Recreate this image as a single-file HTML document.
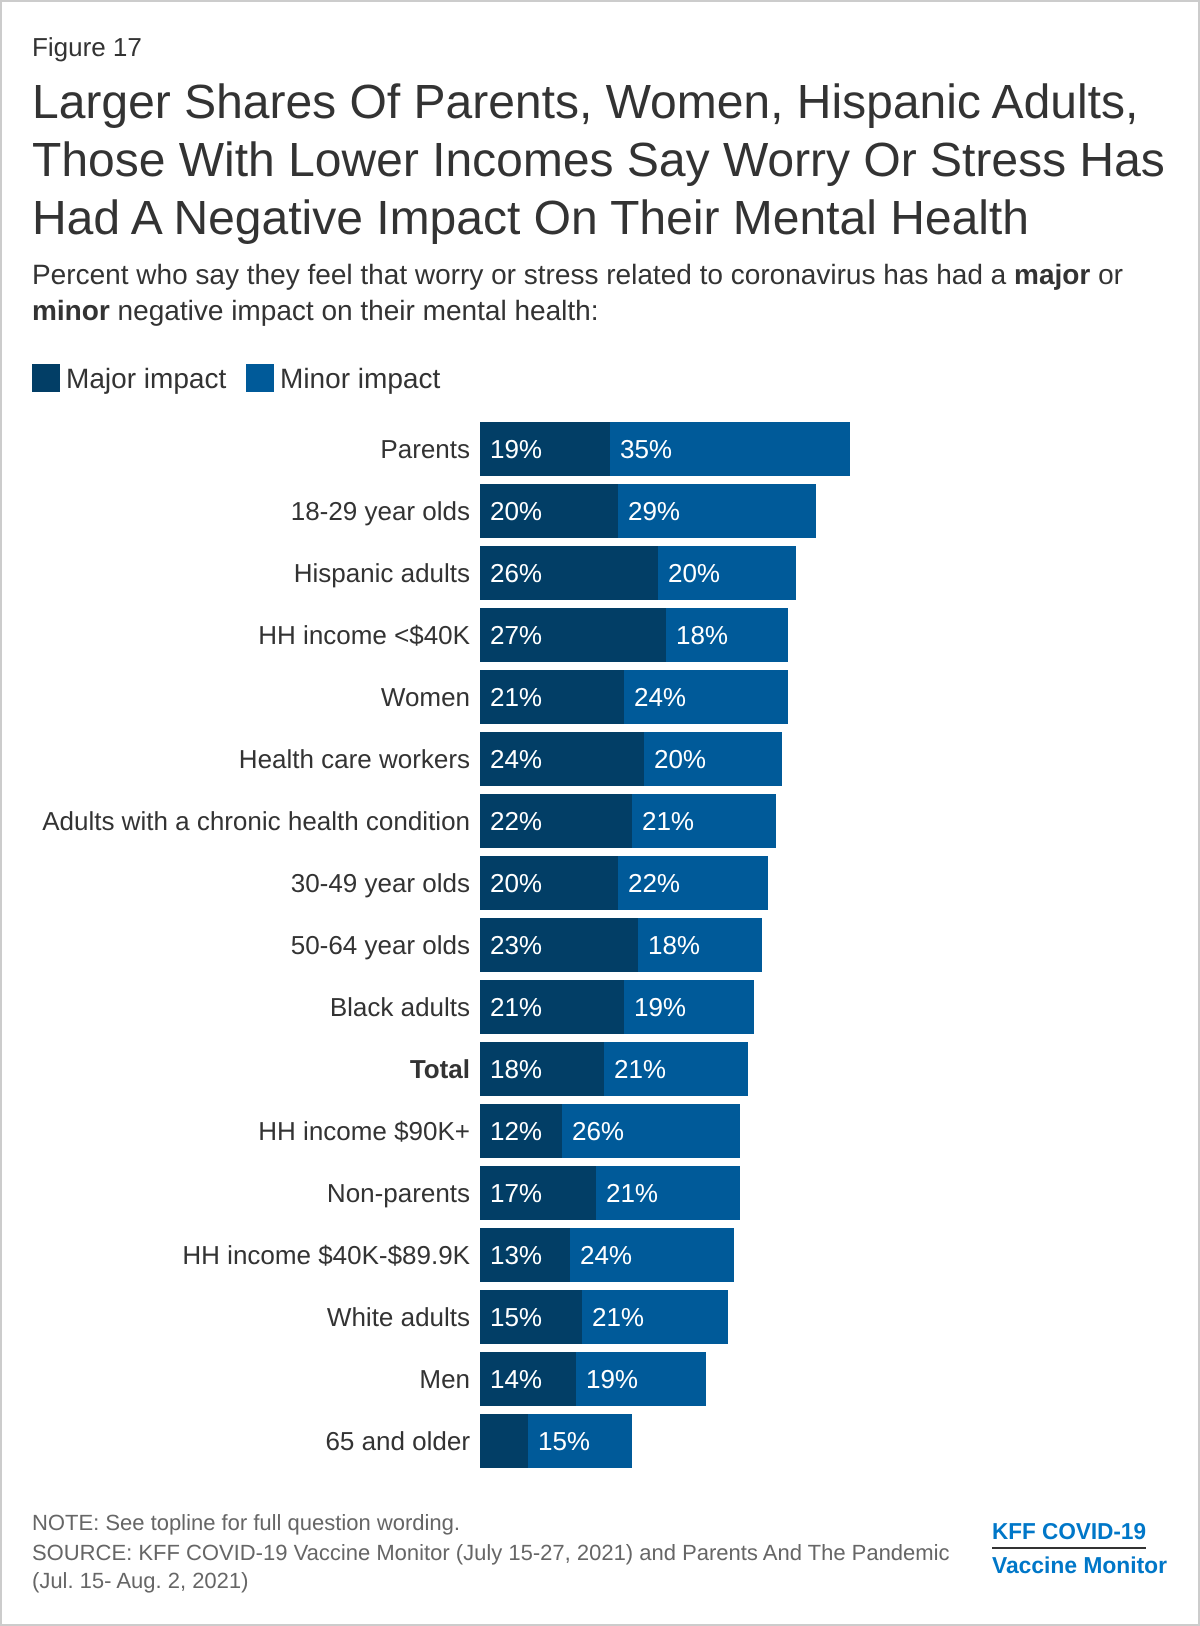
<!DOCTYPE html>
<html lang="en">
<head>
<meta charset="utf-8">
<title>Figure 17</title>
<style>
html,body{margin:0;padding:0;background:#fff;}
svg{display:block;font-family:"Liberation Sans",Arial,sans-serif;text-rendering:geometricPrecision;}
</style>
</head>
<body>
<svg id="figure" xmlns="http://www.w3.org/2000/svg" width="1200" height="1626" viewBox="0 0 1200 1626">
  <rect x="1" y="1" width="1198" height="1624" fill="#fff" stroke="#ccc" stroke-width="2"/>
  <text x="32" y="56" font-size="26" fill="#333">Figure 17</text>
  <g font-size="48" fill="#333">
    <text x="32" y="118">Larger Shares Of Parents, Women, Hispanic Adults,</text>
    <text x="32" y="176">Those With Lower Incomes Say Worry Or Stress Has</text>
    <text x="32" y="234">Had A Negative Impact On Their Mental Health</text>
  </g>
  <g font-size="28" fill="#333">
    <text x="32" y="284">Percent who say they feel that worry or stress related to coronavirus has had a <tspan font-weight="bold">major</tspan> or</text>
    <text x="32" y="320"><tspan font-weight="bold">minor</tspan> negative impact on their mental health:</text>
  </g>
  <g font-size="28" fill="#333">
    <rect x="32" y="364" width="28" height="28" fill="#023e66"/>
    <text x="66" y="388">Major impact</text>
    <rect x="246" y="364" width="28" height="28" fill="#005a99"/>
    <text x="280" y="388">Minor impact</text>
  </g>
  <g id="plot"></g>
  <g font-size="22" fill="#666">
    <text x="32" y="1530">NOTE: See topline for full question wording.</text>
    <text x="32" y="1560">SOURCE: KFF COVID-19 Vaccine Monitor (July 15-27, 2021) and Parents And The Pandemic</text>
    <text x="32" y="1588">(Jul. 15- Aug. 2, 2021)</text>
  </g>
  <g font-weight="bold" fill="#0077c8">
    <text x="992" y="1539" font-size="23" textLength="154" lengthAdjust="spacingAndGlyphs">KFF COVID-19</text>
    <rect x="992" y="1547" width="154" height="2" fill="#333"/>
    <text x="992" y="1573" font-size="23" textLength="175" lengthAdjust="spacingAndGlyphs">Vaccine Monitor</text>
  </g>
</svg>
<script>
const categories = ["Parents","18-29 year olds","Hispanic adults","HH income <$40K","Women","Health care workers","Adults with a chronic health condition","30-49 year olds","50-64 year olds","Black adults","Total","HH income $90K+","Non-parents","HH income $40K-$89.9K","White adults","Men","65 and older"];
const majorImpact = [19,20,26,27,21,24,22,20,23,21,18,12,17,13,15,14,7];
const minorImpact = [35,29,20,18,24,20,21,22,18,19,21,26,21,24,21,19,15];
const boldCategories = ["Total"];

const SVG_NS = "http://www.w3.org/2000/svg";
const plot = document.getElementById("plot");
const originX = 480, unitX = 6.865, firstTop = 422, rowPitch = 62, barHeight = 54;
const minLabelled = 10;
const xScale = v => Math.round((originX + v * unitX) / 2) * 2;
const yScale = i => firstTop + i * rowPitch;

function drawSegment(row, start, value, fill, seriesName) {
  const x0 = xScale(start);
  const x1 = xScale(start + value);
  const rect = document.createElementNS(SVG_NS, "rect");
  rect.setAttribute("x", x0);
  rect.setAttribute("y", yScale(row));
  rect.setAttribute("width", x1 - x0);
  rect.setAttribute("height", barHeight);
  rect.setAttribute("fill", fill);
  
  
  plot.appendChild(rect);
  if (value >= minLabelled) {
    const label = document.createElementNS(SVG_NS, "text");
    label.setAttribute("x", x0 + 10);
    label.setAttribute("y", yScale(row) + 36);
    label.setAttribute("font-size", "26");
    label.setAttribute("fill", "#fff");
    label.textContent = value + "%";
    
    
    plot.appendChild(label);
  }
}

categories.forEach((name, i) => {
  const cat = document.createElementNS(SVG_NS, "text");
  cat.setAttribute("x", originX - 10);
  cat.setAttribute("y", yScale(i) + 36);
  cat.setAttribute("font-size", "26");
  cat.setAttribute("fill", "#333");
  cat.setAttribute("text-anchor", "end");
  if (boldCategories.includes(name)) cat.setAttribute("font-weight", "bold");
  cat.textContent = name;
  
  
  plot.appendChild(cat);
  drawSegment(i, 0, majorImpact[i], "#023e66", "major");
  drawSegment(i, majorImpact[i], minorImpact[i], "#005a99", "minor");
});
</script>
</body>
</html>
